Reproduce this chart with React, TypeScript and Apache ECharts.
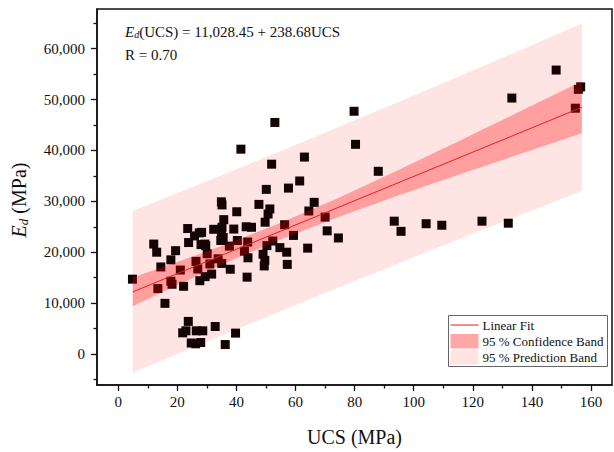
import { useEffect, useRef } from "react";
import * as echarts from "echarts";

// Scatter data: UCS (MPa) and Ed (MPa)
const ucs = [
  4.8, 12.0, 13.0, 14.4, 13.4, 15.8, 17.8, 19.4, 17.8, 18.2, 21.0, 22.1, 23.5, 23.8, 25.8, 27.4,
  26.3, 26.9, 27.6, 28.0, 29.6, 30.1, 29.4, 31.6, 32.3, 33.8, 34.9, 35.1, 35.7, 35.1, 34.9, 34.7,
  35.0, 31.0, 37.6, 37.9, 39.1, 40.1, 40.3, 41.5, 42.7, 43.3, 43.8, 43.9, 43.6, 45.1, 47.6, 49.0,
  49.4, 49.6, 49.7, 50.1, 50.7, 51.3, 51.9, 52.3, 53.0, 50.3, 54.7, 56.3, 57.0, 57.2, 57.6, 59.3,
  61.4, 63.0, 64.1, 64.5, 66.3, 70.0, 70.7, 74.5, 79.8, 80.3, 88.0, 93.4, 95.7, 104.2, 109.5, 123.1,
  132.0, 133.2, 148.2, 154.7, 155.7, 156.5, 23.7, 21.8, 22.9, 26.4, 28.6, 24.7, 26.2, 27.9, 32.8,
  36.2, 39.7, 35.5, 29.3, 28.2,
];
const ed = [
  14700, 21600, 20000, 17100, 12850, 9950, 18500, 20300, 14300, 13700, 16500, 13300, 24650, 21900, 23200, 23800,
  18200, 16700, 14400, 21500, 21300, 19700, 15200, 15700, 24500, 18700, 29900, 29300, 26400, 24900, 23300, 22300,
  17800, 17700, 21200, 16650, 24550, 27950, 22300, 40250, 20200, 25000, 22000, 18900, 15100, 24900, 29400, 19600,
  17300, 18400, 25900, 32350, 27500, 28500, 37300, 22200, 45500, 21300, 20900, 25400, 20000, 17600, 32600, 23300,
  34000, 38700, 20800, 28100, 29800, 26900, 24200, 22800, 47700, 41200, 35900, 26100, 24100, 25600, 25300, 26100,
  25700, 50300, 55800, 48300, 52000, 52500, 6400, 4150, 4550, 4550, 4550, 2150, 2000, 2250, 5400,
  1850, 4100, 22900, 21600, 23900,
];

// Linear fit line end points
const fitX = [4.9, 156.9];
const fitY = [12200, 48480];

// Band edges at several UCS positions
const bandX = [4.9, 20, 35, 54, 75, 95, 115, 135, 156.9];
const confUpper = [15015, 18073, 21226, 25529, 30820, 36217, 41769, 47388, 53579];
const confLower = [9381, 13531, 17538, 22305, 27038, 31189, 35185, 39112, 43375];
const predUpper = [28098, 31615, 35140, 39649, 44692, 49553, 54468, 59437, 64937];
const predLower = [-3702, -11, 3624, 8185, 13166, 17853, 22486, 27063, 32017];

// Axis ticks
const xTicks = [0, 20, 40, 60, 80, 100, 120, 140, 160];
const xMinor = [10, 30, 50, 70, 90, 110, 130, 150];
const yTicks = [0, 10000, 20000, 30000, 40000, 50000, 60000];
const yMinor = [-5000, 5000, 15000, 25000, 35000, 45000, 55000, 65000];

const legendItems = ["Linear Fit", "95 % Confidence Band", "95 % Prediction Band"];
const equationText = "(UCS) = 11,028.45 + 238.68UCS";
const rText = "R = 0.70";
const xName = "UCS (MPa)";
const yNameTail = " (MPa)";

const FONT = "Liberation Serif";
const X_MIN = -7.2;
const X_MAX = 167.1;
const Y_MIN = -6100;
const Y_MAX = 67800;

function bandSeries(upper: number[], lower: number[], fill: string, z: number) {
  return {
    type: "custom",
    z,
    silent: true,
    xAxisIndex: 0,
    yAxisIndex: 0,
    data: [[bandX[0], upper[0]]],
    renderItem: (params: any, api: any) => {
      if (params.dataIndex !== 0) return null;
      const pts: number[][] = [];
      for (let i = 0; i < bandX.length; i++) pts.push(api.coord([bandX[i], upper[i]]));
      for (let i = bandX.length - 1; i >= 0; i--) pts.push(api.coord([bandX[i], lower[i]]));
      return {
        type: "polygon",
        shape: { points: pts },
        style: { fill, stroke: "none" },
      };
    },
  };
}

export default function App() {
  const ref = useRef<HTMLDivElement>(null);
  useEffect(() => {
    if (!ref.current) return;
    const chart = echarts.init(ref.current, null, { renderer: "svg" });
    const axisColor = "#111";
    const tickStyle = { color: axisColor, width: 1.3 };
    const option: any = {
      animation: false,
      textStyle: { fontFamily: FONT },
      grid: {
        left: 97,
        top: 9,
        right: 2,
        bottom: 63,
        show: true,
        borderColor: axisColor,
        borderWidth: 1.5,
        backgroundColor: "transparent",
      },
      xAxis: [
        {
          type: "value",
          min: X_MIN,
          max: X_MAX,
          position: "bottom",
          name: xName,
          nameLocation: "middle",
          nameGap: 42,
          nameTextStyle: { fontSize: 20, color: axisColor, fontFamily: FONT },
          axisLine: { show: true, onZero: false, lineStyle: { color: axisColor, width: 1.5 } },
          axisTick: { show: true, inside: false, length: 6, customValues: xTicks, lineStyle: tickStyle },
          axisLabel: { customValues: xTicks, fontSize: 15, color: axisColor, margin: 9, fontFamily: FONT },
          splitLine: { show: false },
        },
        {
          type: "value",
          min: X_MIN,
          max: X_MAX,
          position: "bottom",
          axisLine: { show: false, onZero: false },
          axisTick: { show: true, inside: false, length: 3.5, customValues: xMinor, lineStyle: tickStyle },
          axisLabel: { show: false },
          splitLine: { show: false },
        },
      ],
      yAxis: [
        {
          type: "value",
          min: Y_MIN,
          max: Y_MAX,
          position: "left",
          axisLine: { show: true, onZero: false, lineStyle: { color: axisColor, width: 1.5 } },
          axisTick: { show: true, inside: false, length: 6, customValues: yTicks, lineStyle: tickStyle },
          axisLabel: {
            customValues: yTicks,
            fontSize: 15,
            color: axisColor,
            margin: 12,
            fontFamily: FONT,
            formatter: (v: number) => v.toLocaleString("en-US"),
          },
          splitLine: { show: false },
        },
        {
          type: "value",
          min: Y_MIN,
          max: Y_MAX,
          position: "left",
          axisLine: { show: false, onZero: false },
          axisTick: { show: true, inside: false, length: 3.5, customValues: yMinor, lineStyle: tickStyle },
          axisLabel: { show: false },
          splitLine: { show: false },
        },
      ],
      series: [
        bandSeries(predUpper, predLower, "rgb(255,228,228)", 1),
        {
          type: "scatter",
          z: 2,
          xAxisIndex: 0,
          yAxisIndex: 0,
          symbol: "rect",
          symbolSize: 9,
          itemStyle: { color: "#140404", opacity: 1 },
          data: ucs.map((u, i) => [u, ed[i]]),
        },
        bandSeries(confUpper, confLower, "rgba(255,0,0,0.3)", 3),
        {
          type: "line",
          z: 4,
          xAxisIndex: 0,
          yAxisIndex: 0,
          showSymbol: false,
          symbol: "none",
          lineStyle: { color: "#ee1b1b", width: 1 },
          data: fitX.map((x, i) => [x, fitY[i]]),
        },
      ],
      graphic: [
        {
          type: "text",
          x: 19,
          y: 200,
          rotation: Math.PI / 2,
          style: {
            text: "{i|E}{s|d}{n|" + yNameTail + "}",
            align: "center",
            verticalAlign: "middle",
            rich: {
              i: { fontSize: 20, fontStyle: "italic", fontFamily: FONT, fill: axisColor },
              s: { fontSize: 13, fontStyle: "italic", fontFamily: FONT, fill: axisColor, verticalAlign: "bottom", padding: [9, 0, 0, 0] },
              n: { fontSize: 20, fontFamily: FONT, fill: axisColor },
            },
          },
        },
        {
          type: "text",
          left: 125,
          top: 24,
          style: {
            text: "{i|E}{s|d}{n|" + equationText + "}",
            rich: {
              i: { fontSize: 15, fontStyle: "italic", fontFamily: FONT, fill: axisColor },
              s: { fontSize: 10, fontStyle: "italic", fontFamily: FONT, fill: axisColor, verticalAlign: "bottom", padding: [6, 0, 0, 0] },
              n: { fontSize: 15, fontFamily: FONT, fill: axisColor },
            },
          },
        },
        {
          type: "text",
          left: 125,
          top: 47,
          style: { text: rText, fontSize: 15, fontFamily: FONT, fill: axisColor },
        },
        {
          type: "group",
          left: 448,
          top: 315,
          children: [
            { type: "rect", shape: { x: 0, y: 0, width: 159, height: 51 }, style: { fill: "#fff", stroke: "#666", lineWidth: 1 } },
            { type: "line", shape: { x1: 2, y1: 9.5, x2: 30, y2: 9.5 }, style: { stroke: "#ee1b1b", lineWidth: 1 } },
            { type: "rect", shape: { x: 2, y: 18.5, width: 28, height: 14.5 }, style: { fill: "rgb(255,166,166)", stroke: "none" } },
            { type: "rect", shape: { x: 2, y: 34.5, width: 28, height: 14.5 }, style: { fill: "rgb(255,228,228)", stroke: "none" } },
            { type: "text", x: 34, y: 9.5, style: { text: legendItems[0], fontSize: 13, fontFamily: FONT, fill: axisColor, verticalAlign: "middle" } },
            { type: "text", x: 34, y: 26, style: { text: legendItems[1], fontSize: 13, fontFamily: FONT, fill: axisColor, verticalAlign: "middle" } },
            { type: "text", x: 34, y: 42, style: { text: legendItems[2], fontSize: 13, fontFamily: FONT, fill: axisColor, verticalAlign: "middle" } },
          ],
        },
      ],
    };
    chart.setOption(option);
    return () => chart.dispose();
  }, []);
  return (
    <div
      ref={ref}
      style={{ position: "absolute", left: 0, top: 0, width: 614, height: 452, background: "#fff" }}
    />
  );
}
